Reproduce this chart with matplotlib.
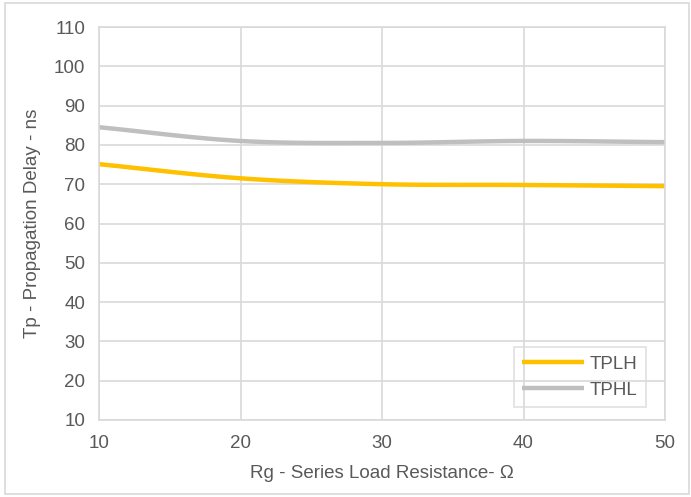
import numpy as np
import matplotlib
matplotlib.use("Agg")
import matplotlib.pyplot as plt
from matplotlib.patches import Rectangle

rg = [10, 20, 30, 40, 50]
tplh = [75.1, 71.5, 70.0, 69.8, 69.5]
tphl = [84.5, 81.0, 80.5, 81.0, 80.7]
xticks = [10, 20, 30, 40, 50]
yticks = [10, 20, 30, 40, 50, 60, 70, 80, 90, 100, 110]

plt.rcParams['font.family'] = ['Liberation Sans', 'DejaVu Sans']


def smooth(x, y, n=30):
    # Catmull-Rom style smoothing like spreadsheet "smoothed line"
    x = np.asarray(x, float); y = np.asarray(y, float)
    px = np.concatenate([[2 * x[0] - x[1]], x, [2 * x[-1] - x[-2]]])
    py = np.concatenate([[2 * y[0] - y[1]], y, [2 * y[-1] - y[-2]]])
    xs, ys = [], []
    t = np.linspace(0, 1, n)
    for i in range(1, len(px) - 2):
        p0, p1, p2, p3 = [np.array([px[j], py[j]]) for j in (i - 1, i, i + 1, i + 2)]
        pts = 0.5 * ((2 * p1)[:, None] + (-p0 + p2)[:, None] * t
                     + (2 * p0 - 5 * p1 + 4 * p2 - p3)[:, None] * t ** 2
                     + (-p0 + 3 * p1 - 3 * p2 + p3)[:, None] * t ** 3)
        xs.extend(pts[0]); ys.extend(pts[1])
    return xs, ys


fig = plt.figure(figsize=(6.91, 4.97), dpi=100)
ax = fig.add_axes([99 / 691, 77 / 497, 566 / 691, 393 / 497])

fig.patches.append(Rectangle((5 / 691, 3 / 497), 684 / 691, 491 / 497,
                             transform=fig.transFigure, fill=False,
                             edgecolor='#D9D9D9', linewidth=1.2))

grid_c = '#D9D9D9'
fs = 13.5
sx, sy = smooth(rg, tplh)
ax.plot(sx, sy, color='#FFC000', lw=3.2, label='TPLH', solid_capstyle='butt')
sx, sy = smooth(rg, tphl)
ax.plot(sx, sy, color='#BFBFBF', lw=3.2, label='TPHL', solid_capstyle='butt')

ax.set_xlim(10, 50)
ax.set_ylim(10, 110)
ax.set_xticks(xticks)
ax.set_yticks(yticks)
ax.grid(True, color=grid_c, lw=1.2)
ax.set_axisbelow(True)
for s in ax.spines.values():
    s.set_color(grid_c)
    s.set_linewidth(1.2)
ax.tick_params(length=0, labelsize=fs, colors='#595959', pad=10)
ax.tick_params(axis='x', pad=11)

ax.set_xlabel('Rg - Series Load Resistance- Ω', fontsize=fs, color='#595959', labelpad=9)
ax.set_ylabel('Tp - Propagation Delay - ns', fontsize=fs, color='#595959', labelpad=9)

leg = ax.legend(loc='lower right', bbox_to_anchor=(0.966, 0.033), fontsize=fs,
                frameon=True, fancybox=False, facecolor='none', edgecolor=grid_c,
                handlelength=3.3, handletextpad=0.3, labelcolor='#595959',
                borderpad=0.45, labelspacing=0.45, borderaxespad=0)
leg.get_frame().set_linewidth(1.2)

fig.savefig('out.png', dpi=100)
